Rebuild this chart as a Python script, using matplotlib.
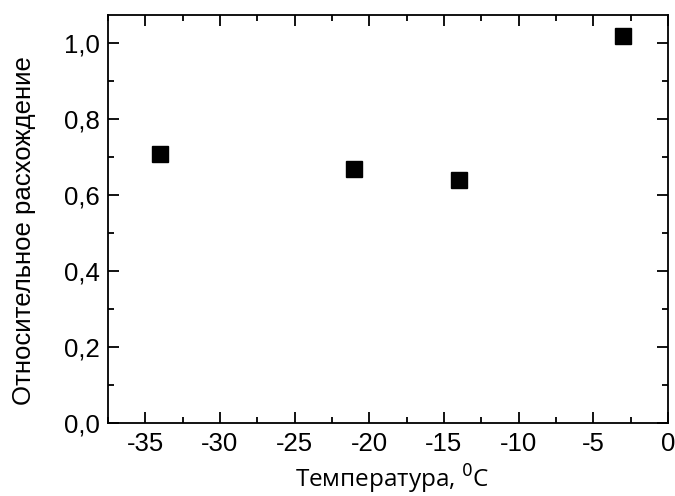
import matplotlib.pyplot as plt
from matplotlib.ticker import MultipleLocator, FuncFormatter

# данные
temp = [-34, -21, -14, -3]
ratio = [0.71, 0.67, 0.64, 1.02]

plt.rcParams['font.family'] = ['Liberation Sans', 'DejaVu Sans']

fig = plt.figure(figsize=(6.75, 4.96), dpi=100)
ax = fig.add_axes([0.16, 0.1466, 0.8296, 0.8232])

ax.plot(temp, ratio, linestyle='none', marker='s', markersize=11.5, color='black')

ax.set_xlim(-37.5, 0)
ax.set_ylim(0, 1.075)
ax.xaxis.set_major_locator(MultipleLocator(5))
ax.xaxis.set_minor_locator(MultipleLocator(2.5))
ax.yaxis.set_major_locator(MultipleLocator(0.2))
ax.yaxis.set_minor_locator(MultipleLocator(0.1))
ax.yaxis.set_major_formatter(FuncFormatter(lambda v, p: f'{v:.1f}'.replace('.', ',')))
ax.xaxis.set_major_formatter(FuncFormatter(lambda v, p: f'{v:.0f}'))

ax.tick_params(which='both', direction='in', top=True, right=True, width=1.3,
               labelsize=18.5, pad=6)
ax.tick_params(which='major', length=8)
ax.tick_params(which='minor', length=4)
for s in ax.spines.values():
    s.set_linewidth(1.3)

ax.set_xlabel('Температура, $^{0}$C', fontsize=17.5, family=['Open Sans', 'DejaVu Sans'])
ax.set_ylabel('Относительное расхождение', fontsize=18.5)
ax.xaxis.set_label_coords(0.508, -0.097)
ax.yaxis.set_label_coords(-0.129, 0.473)

fig.savefig('out.png', dpi=100)
